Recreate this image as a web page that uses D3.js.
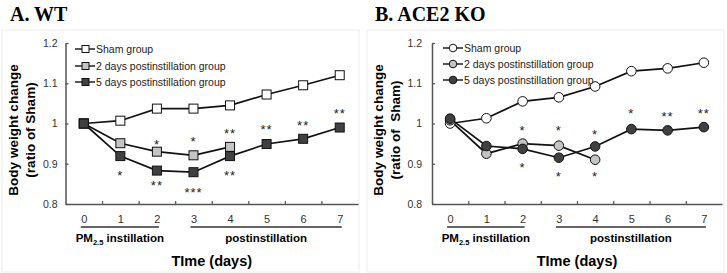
<!DOCTYPE html>
<html>
<head>
<meta charset="utf-8">
<script src="https://cdn.jsdelivr.net/npm/d3@7/dist/d3.min.js"></script>
<style>
  body { margin: 0; background: #fff; }
  svg text { font-family: "Liberation Sans", Arial, sans-serif; }
</style>
</head>
<body>
<svg id="chart" width="727" height="273"></svg>
<script>
// ---- data ----
const days = [0, 1, 2, 3, 4, 5, 6, 7];
const dayLabels = ["0", "1", "2", "3", "4", "5", "6", "7"];
const yTicks = [0.8, 0.9, 1.0, 1.1, 1.2];
const yTickLabels = ["0.8", "0.9", "1", "1.1", "1.2"];
const seriesNames = ["Sham group", "2 days postinstillation group", "5 days postinstillation group"];

// WT
const wtSham = [1.0, 1.007, 1.037, 1.037, 1.045, 1.072, 1.095, 1.12];
const wt2d = [1.0, 0.951, 0.930, 0.921, 0.942];
const wt5d = [1.0, 0.919, 0.883, 0.879, 0.919, 0.949, 0.962, 0.990];
const wtStars = [
  { day: 2, y: 0.955, t: "*" }, { day: 3, y: 0.963, t: "*" }, { day: 4, y: 0.983, t: "**" },
  { day: 1, y: 0.879, t: "*" }, { day: 2, y: 0.854, t: "**" }, { day: 3, y: 0.836, t: "***" },
  { day: 4, y: 0.879, t: "**" }, { day: 5, y: 0.993, t: "**" }, { day: 6, y: 1.003, t: "**" },
  { day: 7, y: 1.033, t: "**" }
];

// ACE2 KO
const koSham = [1.0, 1.013, 1.055, 1.065, 1.092, 1.130, 1.137, 1.151];
const ko2d = [1.008, 0.925, 0.950, 0.945, 0.910];
const ko5d = [1.012, 0.944, 0.937, 0.915, 0.943, 0.986, 0.983, 0.991];
const koStars = [
  { day: 2, y: 0.989, t: "*" }, { day: 2, y: 0.899, t: "*" },
  { day: 3, y: 0.989, t: "*" }, { day: 3, y: 0.876, t: "*" },
  { day: 4, y: 0.981, t: "*" }, { day: 4, y: 0.876, t: "*" },
  { day: 5, y: 1.032, t: "*" }, { day: 6, y: 1.025, t: "**" }, { day: 7, y: 1.032, t: "**" }
];

const phases = [
  { from: 0, to: 2, main: "PM", sub: "2.5", rest: " instillation" },
  { from: 3, to: 7, main: "postinstillation", sub: "", rest: "" }
];

const fills = ["#ffffff", "#c4c4c4", "#404040"];

const svg = d3.select("#chart");

function drawPanel(o) {
  const g = svg.append("g").attr("transform", `translate(${o.dx},0)`);

  // faint frame
  g.append("rect").attr("x", 2).attr("y", 30).attr("width", 357).attr("height", 242)
    .attr("fill", "none").attr("stroke", "#eeeeee").attr("stroke-width", 1);

  // title
  g.append("text").attr("x", 10).attr("y", 21)
    .style("font-family", "'Liberation Serif', 'Times New Roman', serif")
    .style("font-weight", "bold").style("font-size", "20px")
    .text(o.title);

  const x = d3.scaleLinear().domain([-0.5, 7.5]).range([o.left, o.right]);
  const y = d3.scaleLinear().domain([0.8, 1.2]).range([204, 43]);

  // y axis
  const ya = g.append("g").attr("transform", `translate(${o.left},0)`)
    .call(d3.axisLeft(y).tickValues(yTicks).tickSizeInner(-3).tickSizeOuter(0)
      .tickPadding(o.tickPad).tickFormat((d, i) => yTickLabels[i]));
  ya.select(".domain").attr("stroke", "#555").attr("stroke-width", 1.5);
  ya.selectAll(".tick line").attr("stroke", "#555").attr("stroke-width", 1.2);
  ya.selectAll(".tick text").attr("fill", "#333").style("font-size", "10.5px")
    .style("font-family", "'Liberation Sans', Arial, sans-serif");

  // x axis: boundary ticks
  const xa = g.append("g").attr("transform", "translate(0,204)")
    .call(d3.axisBottom(x).tickValues(days.slice(1).map(d => d - 0.5))
      .tickSizeInner(-3).tickSizeOuter(0).tickFormat(""));
  xa.select(".domain").attr("stroke", "#555").attr("stroke-width", 1.5);
  xa.selectAll(".tick line").attr("stroke", "#555").attr("stroke-width", 1.2);

  // x labels
  const xl = g.append("g").attr("transform", "translate(0,204)")
    .call(d3.axisBottom(x).tickValues(days).tickSize(0).tickPadding(11)
      .tickFormat((d, i) => dayLabels[i]));
  xl.select(".domain").remove();
  xl.selectAll(".tick text").attr("fill", "#333").style("font-size", "11px")
    .style("font-family", "'Liberation Sans', Arial, sans-serif");

  // phase bars and labels
  phases.forEach(p => {
    const x1 = x(p.from) - 3, x2 = x(p.to) + 2;
    g.append("line").attr("x1", x1).attr("x2", x2).attr("y1", 227).attr("y2", 227)
      .attr("stroke", "#666").attr("stroke-width", 1.8);
    const t = g.append("text").attr("x", (x1 + x2) / 2).attr("y", 242)
      .attr("text-anchor", "middle").style("font-weight", "bold").style("font-size", "11.5px");
    t.append("tspan").text(p.main);
    if (p.sub) t.append("tspan").attr("dy", 3).style("font-size", "7.5px").text(p.sub);
    if (p.rest) t.append("tspan").attr("dy", -3).text(p.rest);
  });

  // x title
  g.append("text").attr("x", (o.left + o.right) / 2).attr("y", 266)
    .attr("text-anchor", "middle").style("font-weight", "bold").style("font-size", "14.5px")
    .text("TIme (days)");

  // y title
  const yc = 130;
  g.append("text").attr("transform", `translate(18,${yc}) rotate(-90)`)
    .attr("text-anchor", "middle").style("font-weight", "bold").style("font-size", "13.5px")
    .text("Body weight change");
  g.append("text").attr("transform", `translate(35,${yc}) rotate(-90)`)
    .attr("text-anchor", "middle").style("font-weight", "bold").style("font-size", "13.5px")
    .style("white-space", "pre")
    .text(o.yLabel2);

  // series
  const line = d3.line().x((d, i) => x(days[i])).y(d => y(d));
  o.series.forEach((s, k) => {
    g.append("path").datum(s).attr("d", line).attr("fill", "none")
      .attr("stroke", "#111").attr("stroke-width", 1.7);
  });
  o.series.forEach((s, k) => {
    const m = g.append("g").selectAll("*").data(s).enter();
    if (o.shape === "square") {
      m.append("rect").attr("x", (d, i) => x(days[i]) - 4.5).attr("y", d => y(d) - 4.5)
        .attr("width", 9).attr("height", 9)
        .attr("fill", fills[k]).attr("stroke", "#111").attr("stroke-width", 1);
    } else {
      m.append("circle").attr("cx", (d, i) => x(days[i])).attr("cy", d => y(d))
        .attr("r", 4.8).attr("fill", fills[k]).attr("stroke", "#111").attr("stroke-width", 1);
    }
  });

  // significance stars
  g.append("g").selectAll("text").data(o.stars).enter().append("text")
    .attr("x", d => x(d.day)).attr("y", d => y(d.y) + 7.5)
    .attr("text-anchor", "middle").attr("fill", "#222")
    .style("font-size", "13px").style("letter-spacing", "1px")
    .text(d => d.t);

  // legend
  const lg = g.append("g");
  seriesNames.forEach((name, k) => {
    const ly = o.legendY[k];
    lg.append("line").attr("x1", o.legX).attr("x2", o.legX + 20).attr("y1", ly).attr("y2", ly)
      .attr("stroke", "#111").attr("stroke-width", 1.4);
    if (o.shape === "square") {
      lg.append("rect").attr("x", o.legX + 7).attr("y", ly - 3.5).attr("width", 7).attr("height", 7)
        .attr("fill", fills[k]).attr("stroke", "#111").attr("stroke-width", 1);
    } else {
      lg.append("circle").attr("cx", o.legX + 10).attr("cy", ly).attr("r", 3.8)
        .attr("fill", fills[k]).attr("stroke", "#111").attr("stroke-width", 1);
    }
    lg.append("text").attr("x", o.legX + 21).attr("y", ly + 3.8)
      .attr("fill", "#222").style("font-size", "10.5px").text(name);
  });
}

drawPanel({
  dx: 0, title: "A. WT", left: 65.5, right: 358, tickPad: 8,
  yLabel2: "(ratio of Sham)", shape: "square",
  series: [wtSham, wt2d, wt5d], stars: wtStars,
  legX: 75, legendY: [49, 66, 82]
});
drawPanel({
  dx: 365, title: "B. ACE2 KO", left: 67, right: 357, tickPad: 10,
  yLabel2: "(ratio of  Sham)", shape: "circle",
  series: [koSham, ko2d, ko5d], stars: koStars,
  legX: 78, legendY: [48, 64, 80]
});
</script>
</body>
</html>
